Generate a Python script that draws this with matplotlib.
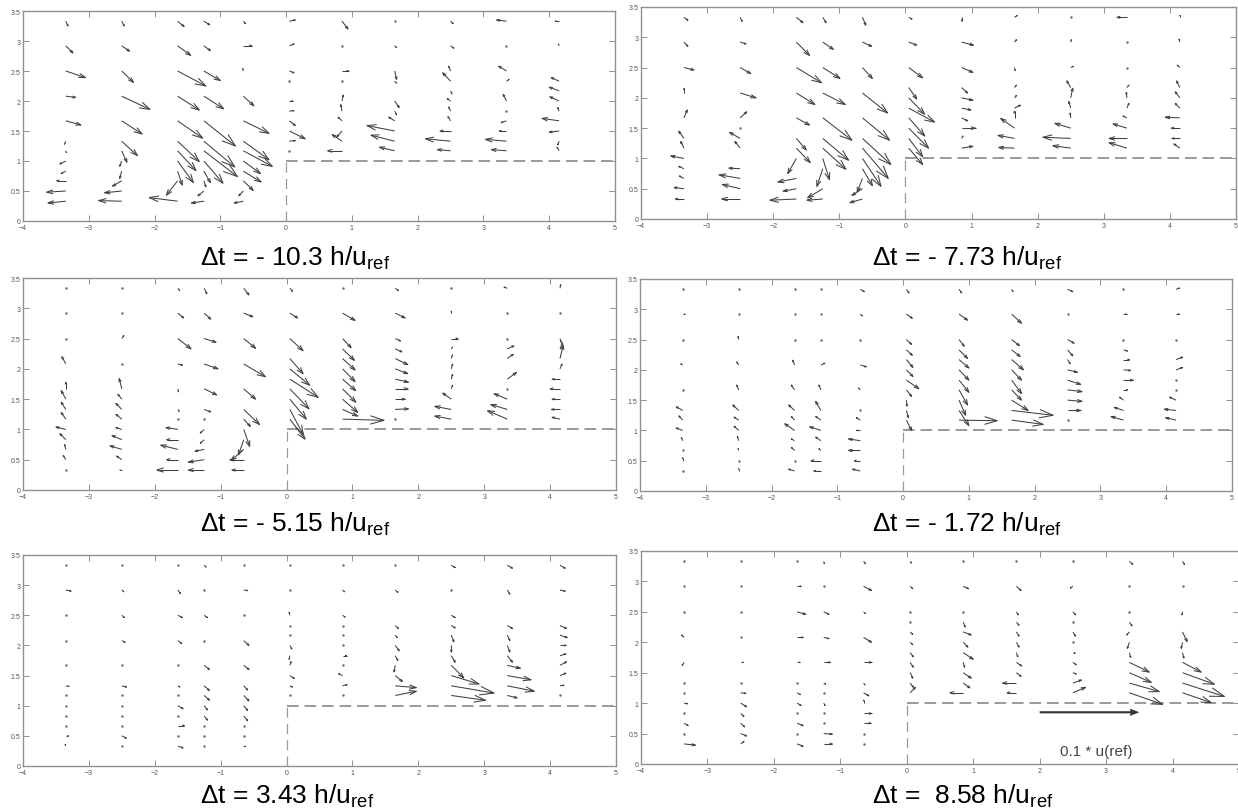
import numpy as np
import matplotlib
matplotlib.use('Agg')
import matplotlib.pyplot as plt
from matplotlib.collections import LineCollection

nan = np.nan

# measurement grid (tail positions)
x_left = [-3.35, -2.5, -1.65, -1.25, -0.65]
x_right = [0.05, 0.85, 1.65, 2.5, 3.35, 4.15]
y_left = [0.33, 0.5, 0.67, 0.83, 1.0, 1.17, 1.33, 1.5, 1.67, 2.08, 2.5, 2.92, 3.33]
y_right = [1.17, 1.33, 1.5, 1.67, 1.83, 2.0, 2.17, 2.33, 2.5, 2.92, 3.33]

captions = ['- 10.3', '- 7.73', '- 5.15', '- 1.72', '3.43', ' 8.58']

# vector components as drawn (plot units), one row per column of the grid
u_left_1 = [[-0.27, -0.29, -0.14, -0.07, -0.09, 0.01, -0.02, nan, 0.23, 0.15, 0.30, 0.11, 0.035],
            [-0.35, -0.26, -0.14, -0.03, -0.03, 0.08, 0.24, nan, 0.31, 0.43, 0.18, 0.12, 0.04],
            [-0.43, nan, -0.17, 0.07, 0.24, 0.28, 0.33, nan, 0.38, 0.33, 0.43, 0.2, 0.1],
            [-0.19, -0.09, 0.03, 0.1, 0.29, 0.51, 0.47, nan, 0.48, 0.3, 0.25, 0.1, 0.09],
            [-0.14, -0.07, 0.15, 0.27, 0.26, 0.44, 0.39, nan, 0.39, 0.16, -0.01, 0.13, 0.03]]
v_left_1 = [[-0.03, -0.02, 0.0, -0.04, -0.05, -0.03, -0.05, nan, -0.07, -0.02, -0.11, -0.12, -0.08],
            [0.01, -0.03, -0.09, -0.12, -0.09, -0.19, -0.24, nan, -0.22, -0.22, -0.19, -0.09, -0.08],
            [0.06, nan, -0.24, -0.23, -0.36, -0.33, -0.34, nan, -0.29, -0.23, -0.25, -0.16, -0.09],
            [-0.03, -0.08, -0.1, -0.19, -0.37, -0.43, -0.43, nan, -0.42, -0.21, -0.16, -0.08, -0.06],
            [-0.03, -0.08, -0.16, -0.18, -0.21, -0.26, -0.31, nan, -0.21, -0.16, 0.04, 0.0, -0.04]]
u_right_1 = [[0.0, 0.09, 0.24, 0.09, 0.07, 0.05, nan, 0.0, 0.07, 0.07, 0.09],
             [-0.22, -0.15, -0.08, -0.06, -0.02, 0.02, nan, 0.0, 0.1, 0.0, 0.09],
             [-0.23, -0.36, -0.42, -0.09, 0.03, 0.07, nan, 0.03, 0.03, 0.03, 0.0],
             [-0.2, -0.38, -0.16, -0.04, -0.03, -0.05, 0.02, -0.12, -0.03, 0.05, 0.04],
             [-0.23, -0.32, -0.11, -0.08, 0.0, -0.05, nan, 0.04, -0.12, 0.0, -0.15],
             [-0.03, -0.02, -0.15, -0.26, -0.02, -0.14, -0.15, -0.12, nan, -0.01, -0.06]]
v_right_1 = [[0.0, 0.01, -0.13, -0.08, 0.01, 0.0, nan, 0.0, -0.03, 0.03, 0.02],
             [0.0, 0.11, -0.1, 0.06, 0.11, 0.1, nan, 0.02, 0.0, 0.0, -0.13],
             [0.06, 0.1, 0.09, 0.06, -0.06, -0.11, nan, -0.03, -0.14, -0.03, 0.0],
             [0.02, 0.04, 0.0, 0.07, 0.07, 0.04, -0.05, 0.14, 0.08, -0.04, -0.04],
             [0.02, 0.03, 0.0, -0.03, 0.0, 0.11, nan, 0.03, 0.08, 0.0, 0.02],
             [0.06, -0.06, -0.02, 0.04, 0.06, 0.07, 0.06, 0.06, nan, 0.03, 0.0]]

u_left_2 = [[-0.13, -0.15, -0.07, -0.08, -0.2, -0.05, -0.08, nan, 0.05, 0.0, 0.15, 0.06, 0.06],
            [-0.28, -0.27, -0.32, -0.17, nan, -0.08, -0.16, 0.0, 0.1, 0.24, 0.16, 0.09, 0.03],
            [-0.4, -0.2, -0.28, nan, -0.13, 0.21, 0.15, nan, 0.2, 0.28, 0.38, 0.2, 0.1],
            [-0.24, -0.23, nan, -0.09, 0.1, 0.35, 0.39, nan, 0.44, 0.34, 0.26, 0.16, 0.05],
            [-0.19, -0.16, -0.08, 0.15, 0.28, 0.39, 0.43, nan, 0.41, 0.38, 0.15, 0.14, 0.05]]
v_left_2 = [[0.0, 0.02, 0.04, 0.04, 0.04, 0.11, 0.12, nan, 0.13, 0.08, -0.04, -0.07, -0.05],
            [0.0, 0.07, 0.06, 0.01, nan, 0.11, 0.1, 0.0, 0.1, -0.08, -0.1, -0.03, -0.07],
            [-0.02, -0.04, -0.06, nan, -0.25, -0.24, -0.19, nan, -0.12, -0.19, -0.25, -0.22, -0.09],
            [-0.02, -0.15, nan, -0.29, -0.35, -0.35, -0.36, nan, -0.37, -0.19, -0.18, -0.12, -0.09],
            [-0.06, -0.11, -0.22, -0.28, -0.46, -0.5, -0.43, nan, -0.37, -0.33, -0.18, -0.07, -0.13]]
u_right_2 = [[0.21, 0.21, 0.3, 0.24, 0.39, 0.24, 0.12, nan, 0.21, 0.12, 0.05],
             [0.17, 0.02, 0.21, 0.09, 0.14, 0.17, 0.09, nan, 0.17, 0.18, 0.0],
             [-0.24, -0.25, -0.21, 0.0, 0.09, 0.03, 0.03, nan, 0.01, 0.03, 0.04],
             [-0.27, -0.42, -0.24, -0.01, -0.03, 0.03, -0.06, nan, 0.04, 0.01, 0.02],
             [-0.27, -0.27, -0.21, -0.06, 0.03, -0.01, 0.03, nan, 0.01, 0.01, -0.15],
             [-0.09, -0.12, -0.13, -0.22, -0.07, -0.07, -0.05, nan, -0.04, -0.01, 0.0]]
v_right_2 = [[-0.27, -0.3, -0.33, -0.3, -0.23, -0.27, -0.19, nan, -0.17, -0.05, -0.03],
             [0.03, 0.04, 0.0, -0.05, -0.03, -0.04, -0.09, nan, -0.08, -0.05, -0.06],
             [0.01, 0.05, 0.16, 0.11, 0.05, 0.04, 0.04, nan, -0.05, 0.04, 0.03],
             [0.04, 0.02, 0.08, 0.08, 0.11, 0.16, 0.11, nan, 0.02, 0.04, 0.02],
             [0.09, 0.0, 0.07, 0.03, 0.08, 0.09, 0.04, nan, 0.0, -0.01, 0.0],
             [0.07, 0.0, 0.0, 0.01, 0.08, 0.1, 0.11, nan, 0.04, 0.05, 0.03]]

u_left_3 = [[0.0, -0.04, -0.02, -0.09, -0.15, -0.07, -0.07, -0.07, 0.0, -0.06, 0.0, 0.0, 0.0],
            [-0.03, -0.08, -0.18, -0.15, -0.09, -0.09, -0.09, -0.06, -0.04, 0.0, 0.03, 0.0, 0.0],
            [-0.32, -0.17, -0.26, -0.17, -0.18, 0.0, 0.02, nan, 0.01, 0.07, 0.2, 0.09, 0.03],
            [-0.24, -0.24, -0.14, -0.06, -0.06, 0.0, 0.1, nan, 0.19, 0.21, 0.18, 0.1, 0.04],
            [-0.18, -0.21, -0.19, -0.08, 0.09, 0.1, 0.24, nan, 0.18, 0.33, 0.18, 0.14, 0.08]]
v_left_3 = [[0.0, 0.07, 0.08, 0.1, 0.04, 0.11, 0.12, 0.14, 0.11, 0.12, 0.0, 0.0, 0.0],
            [0.0, 0.06, 0.06, 0.07, 0.03, 0.08, 0.1, 0.08, 0.17, 0.0, 0.05, 0.0, 0.0],
            [0.0, 0.0, 0.07, 0.0, 0.03, 0.0, -0.03, nan, -0.05, -0.02, -0.17, -0.08, -0.04],
            [0.0, -0.04, -0.03, -0.06, -0.06, 0.0, -0.04, nan, -0.1, -0.08, -0.06, -0.1, -0.09],
            [0.0, 0.0, -0.18, -0.25, -0.28, -0.12, -0.25, nan, -0.17, -0.21, -0.16, -0.06, -0.11]]
u_right_3 = [[0.23, 0.2, 0.25, 0.29, 0.43, 0.3, 0.2, nan, 0.2, 0.12, 0.04],
             [0.63, 0.23, 0.23, 0.2, 0.2, 0.19, 0.19, 0.18, 0.13, 0.19, 0.02],
             [0.0, 0.2, 0.15, 0.19, 0.2, 0.19, 0.19, 0.1, 0.08, 0.15, 0.05],
             [-0.25, -0.25, -0.13, 0.02, 0.02, 0.02, 0.02, 0.02, 0.1, 0.0, 0.02],
             [-0.3, -0.25, -0.2, 0.01, 0.14, nan, 0.09, 0.1, 0.0, 0.0, -0.05],
             [-0.12, -0.13, -0.12, -0.15, -0.12, 0.03, 0.05, 0.04, 0.02, 0.0, 0.01]]
v_right_3 = [[-0.33, -0.41, -0.33, -0.33, -0.3, -0.27, -0.25, nan, -0.2, -0.08, -0.05],
             [-0.02, -0.11, -0.22, -0.22, -0.19, -0.21, -0.19, -0.19, -0.15, -0.12, -0.02],
             [0.0, 0.01, 0.0, 0.0, -0.05, -0.08, -0.1, -0.05, -0.04, -0.08, -0.04],
             [0.05, 0.05, 0.1, 0.06, 0.08, 0.08, 0.06, 0.03, 0.0, 0.03, -0.02],
             [0.14, 0.08, 0.09, 0.02, 0.11, nan, 0.07, 0.05, 0.0, 0.0, 0.02],
             [0.03, 0.0, 0.0, 0.0, 0.0, 0.08, 0.22, 0.1, -0.06, 0.0, 0.06]]

u_left_4 = [[0.0, 0.0, 0.01, -0.02, -0.1, -0.06, -0.1, nan, 0.0, -0.03, 0.0, 0.03, 0.0],
            [0.0, 0.0, -0.01, -0.02, -0.07, -0.07, -0.09, nan, -0.03, -0.03, -0.01, 0.0, 0.0],
            [-0.09, 0.0, -0.05, -0.05, -0.15, -0.05, -0.09, nan, -0.05, -0.03, 0.0, 0.0, 0.0],
            [-0.11, -0.15, -0.03, -0.08, -0.17, -0.08, -0.08, nan, -0.03, 0.06, 0.0, 0.0, 0.0],
            [-0.12, -0.09, -0.18, -0.18, -0.06, -0.06, 0.0, nan, -0.03, 0.09, 0.0, 0.03, 0.06]]
v_left_4 = [[0.0, 0.05, 0.02, 0.05, 0.04, 0.07, 0.06, nan, 0.0, 0.02, 0.0, 0.0, 0.0],
            [0.04, 0.0, 0.03, 0.07, 0.07, 0.05, 0.09, nan, 0.08, 0.05, 0.05, 0.0, 0.0],
            [0.03, 0.0, 0.05, 0.03, 0.11, 0.06, 0.09, nan, 0.08, 0.08, 0.0, 0.0, 0.0],
            [0.0, 0.0, 0.03, 0.06, 0.06, 0.06, 0.15, nan, 0.08, 0.03, 0.0, 0.0, 0.0],
            [0.03, 0.0, 0.0, 0.03, 0.0, 0.04, 0.0, nan, 0.03, -0.03, 0.0, -0.03, -0.04]]
u_right_4 = [[0.08, 0.03, 0.01, 0.08, 0.19, 0.1, 0.1, 0.09, 0.08, 0.09, 0.04],
             [0.58, 0.15, 0.1, 0.13, 0.15, 0.15, 0.15, 0.13, 0.08, 0.13, 0.04],
             [0.48, 0.63, 0.25, 0.15, 0.15, 0.15, 0.18, 0.13, 0.12, 0.15, 0.02],
             [0.0, 0.2, 0.22, 0.22, 0.2, 0.15, 0.04, 0.08, 0.1, 0.02, 0.08],
             [-0.19, -0.14, -0.06, 0.06, 0.15, 0.11, 0.09, 0.06, 0.0, 0.05, 0.0],
             [-0.16, -0.18, -0.1, 0.0, 0.0, 0.1, 0.1, nan, 0.0, 0.05, 0.05]]
v_right_4 = [[-0.17, -0.12, -0.1, -0.11, -0.14, -0.11, -0.13, -0.09, -0.08, -0.07, -0.06],
             [-0.01, -0.25, -0.25, -0.25, -0.2, -0.17, -0.14, -0.14, -0.11, -0.1, -0.06],
             [-0.07, -0.08, -0.17, -0.17, -0.22, -0.17, -0.17, -0.11, -0.1, -0.15, -0.04],
             [0.0, 0.0, -0.02, -0.03, -0.07, -0.04, -0.07, -0.1, -0.06, -0.02, -0.04],
             [0.06, 0.05, 0.05, 0.0, 0.0, -0.01, 0.0, -0.02, 0.0, 0.0, 0.0],
             [0.04, 0.02, 0.05, 0.0, 0.0, 0.04, 0.04, nan, 0.0, 0.0, 0.02]]

u_left_5 = [[-0.01, 0.04, 0.02, 0.0, 0.02, 0.02, 0.05, nan, 0.0, 0.0, 0.0, 0.08, 0.0],
            [0.0, 0.07, 0.0, 0.0, 0.0, 0.02, 0.07, nan, 0.0, 0.05, 0.04, 0.03, 0.0],
            [0.08, 0.0, 0.1, 0.0, 0.08, 0.0, 0.03, nan, 0.0, 0.06, 0.07, 0.04, 0.0],
            [0.0, 0.0, 0.0, 0.05, 0.05, 0.08, 0.08, nan, 0.08, 0.0, 0.05, 0.02, 0.03],
            [0.03, 0.0, 0.01, 0.06, 0.06, 0.08, 0.06, nan, 0.08, 0.08, 0.0, 0.06, 0.0]]
v_left_5 = [[0.03, 0.0, 0.02, 0.0, -0.02, 0.0, -0.01, nan, 0.01, 0.0, 0.0, -0.02, 0.0],
            [0.0, -0.04, 0.0, 0.0, 0.0, 0.0, -0.02, nan, 0.0, -0.03, -0.04, -0.03, 0.0],
            [-0.03, 0.0, 0.0, 0.0, -0.05, 0.0, -0.02, nan, 0.0, -0.05, -0.04, -0.06, 0.0],
            [0.0, 0.0, 0.0, -0.07, -0.07, -0.08, -0.08, nan, -0.07, 0.0, -0.04, 0.0, -0.03],
            [-0.01, 0.0, -0.02, -0.08, -0.08, -0.09, -0.07, nan, -0.07, -0.08, 0.0, -0.01, 0.0]]
u_right_5 = [[0.0, 0.04, 0.07, 0.02, -0.01, 0.03, 0.0, 0.0, -0.01, 0.0, 0.0],
             [0.0, 0.07, -0.06, 0.02, 0.06, 0.0, 0.0, 0.0, 0.04, 0.03, 0.0],
             [0.32, 0.32, 0.11, -0.02, 0.04, 0.06, 0.03, 0.05, nan, 0.04, 0.0],
             [0.52, 0.65, 0.42, 0.19, 0.06, 0.0, 0.04, 0.06, 0.06, 0.02, 0.06],
             [0.15, 0.41, 0.36, 0.2, 0.08, 0.04, 0.04, 0.08, nan, 0.04, 0.08],
             [0.0, 0.06, 0.09, 0.1, 0.09, 0.09, 0.11, 0.1, nan, 0.08, 0.08]]
v_right_5 = [[0.0, -0.02, -0.05, 0.06, -0.06, -0.06, 0.0, 0.0, 0.05, 0.0, 0.0],
             [0.0, 0.02, 0.03, -0.01, 0.0, 0.0, 0.0, 0.0, -0.03, -0.03, 0.0],
             [0.07, -0.03, -0.1, -0.11, -0.08, -0.09, -0.04, -0.05, nan, -0.04, 0.0],
             [-0.08, -0.12, -0.14, -0.21, -0.11, -0.11, -0.11, -0.04, -0.04, 0.0, -0.04],
             [-0.04, -0.09, -0.07, -0.05, -0.11, -0.11, -0.09, -0.05, nan, -0.07, -0.05],
             [0.0, 0.01, 0.04, 0.06, 0.03, 0.0, -0.04, -0.05, nan, -0.02, -0.05]]

u_left_6 = [[0.17, 0.0, 0.06, 0.0, 0.05, 0.0, 0.0, nan, -0.03, -0.04, 0.0, 0.0, 0.0],
            [0.05, 0.09, 0.06, 0.05, 0.09, 0.08, 0.0, nan, 0.04, 0.0, 0.0, 0.0, 0.0],
            [0.09, 0.0, 0.09, 0.0, 0.06, 0.05, 0.0, nan, 0.04, 0.09, 0.13, 0.06, 0.0],
            [0.13, 0.13, 0.0, 0.02, 0.02, 0.0, 0.03, nan, 0.1, 0.08, 0.08, 0.0, 0.01],
            [0.0, 0.0, 0.11, 0.12, 0.0, 0.08, 0.02, nan, 0.12, 0.12, 0.03, 0.12, 0.03]]
v_left_6 = [[-0.02, 0.0, -0.04, 0.0, -0.01, 0.0, 0.0, nan, -0.05, 0.04, 0.0, 0.0, 0.0],
            [0.04, -0.04, -0.06, -0.05, -0.06, -0.01, 0.0, nan, 0.0, 0.0, 0.0, 0.0, 0.0],
            [-0.04, 0.0, -0.04, 0.0, -0.04, -0.03, 0.0, nan, 0.0, 0.0, -0.04, 0.0, 0.0],
            [0.0, -0.01, 0.0, -0.02, -0.04, 0.0, -0.02, nan, 0.0, -0.02, -0.04, 0.0, -0.04],
            [0.0, 0.0, 0.0, 0.0, 0.05, -0.05, -0.03, nan, 0.0, -0.08, -0.03, -0.07, -0.04]]
u_right_6 = [[0.08, 0.05, 0.04, 0.05, 0.05, 0.04, 0.04, 0.0, 0.0, 0.04, 0.02],
             [-0.2, 0.1, 0.12, 0.02, 0.15, 0.07, 0.12, 0.03, 0.0, 0.08, 0.0],
             [-0.14, -0.21, 0.07, 0.08, 0.02, 0.04, 0.04, 0.04, 0.03, 0.07, 0.0],
             [0.19, 0.13, 0.05, 0.05, 0.03, 0.02, 0.04, 0.0, 0.04, -0.04, 0.0],
             [0.5, 0.45, 0.33, 0.3, 0.02, -0.03, -0.04, 0.04, 0.0, 0.0, 0.05],
             [0.43, 0.63, 0.48, 0.28, 0.02, -0.02, 0.07, nan, -0.01, 0.0, 0.03]]
v_right_6 = [[0.09, -0.07, -0.09, -0.08, -0.07, -0.04, -0.04, 0.0, 0.0, -0.04, -0.03],
             [0.0, -0.08, -0.09, -0.08, -0.11, -0.08, -0.05, -0.08, 0.0, -0.04, 0.0],
             [0.0, 0.0, -0.06, -0.06, -0.07, -0.08, -0.07, -0.05, -0.05, -0.07, 0.0],
             [0.09, 0.05, -0.02, -0.04, 0.0, 0.0, -0.07, 0.0, -0.05, -0.03, 0.0],
             [-0.19, -0.14, -0.16, -0.16, -0.08, -0.1, -0.05, -0.06, 0.0, 0.0, -0.05],
             [-0.16, -0.22, -0.19, -0.16, -0.09, -0.1, -0.16, nan, -0.05, 0.0, -0.05]]

# reference vector (0.1 * u_ref) in panel 6
ref_x, ref_y, ref_len = 2.0, 0.85, 1.5

plt.rcParams['font.family'] = ['Liberation Sans', 'DejaVu Sans']
plt.rcParams['mathtext.fontset'] = 'custom'
plt.rcParams['mathtext.rm'] = 'Liberation Sans'

W, H = 1238, 812
fig = plt.figure(figsize=(W / 100, H / 100), dpi=100)

# axes boxes in pixels: left, top, right, bottom
boxes = [(23, 12, 615, 222), (641, 8, 1236, 220),
         (23, 279, 616, 491), (640, 280, 1232, 492),
         (23, 556, 616, 767), (641, 552, 1239, 765)]
# caption left edge / baseline in pixels
cap_pos = [(200, 265), (872, 265), (200, 532), (872, 532), (200, 804), (872, 804)]

panels = [(u_left_1, v_left_1, u_right_1, v_right_1),
          (u_left_2, v_left_2, u_right_2, v_right_2),
          (u_left_3, v_left_3, u_right_3, v_right_3),
          (u_left_4, v_left_4, u_right_4, v_right_4),
          (u_left_5, v_left_5, u_right_5, v_right_5),
          (u_left_6, v_left_6, u_right_6, v_right_6)]

frame_col = '#909090'
arrow_col = '#404040'


def arrows(ax, xs, ys, U, V):
    segs = []
    dots = []
    a, b = 0.33, 0.33  # matlab quiver head proportions
    for i, x0 in enumerate(xs):
        for j, y0 in enumerate(ys):
            u, v = U[i][j], V[i][j]
            if np.isnan(u):
                continue
            if np.hypot(u, v) < 0.03:
                dots.append((x0, y0))
                continue
            tx, ty = x0 + u, y0 + v
            segs.append([(x0, y0), (tx, ty)])
            segs.append([(tx - a * (u + b * v), ty - a * (v - b * u)), (tx, ty),
                         (tx - a * (u - b * v), ty - a * (v + b * u))])
    ax.add_collection(LineCollection(segs, colors=arrow_col, linewidths=0.75))
    if dots:
        d = np.array(dots)
        ax.plot(d[:, 0], d[:, 1], '.', color='#707070', ms=1.6)


for k, (box, (uL, vL, uR, vR)) in enumerate(zip(boxes, panels)):
    l, t, r, b = box
    ax = fig.add_axes([l / W, 1 - b / H, (r - l) / W, (b - t) / H])
    ax.set_xlim(-4, 5)
    ax.set_ylim(0, 3.5)
    ax.set_xticks(range(-4, 6))
    ax.set_yticks(np.arange(0, 3.51, 0.5))
    ax.set_yticklabels(['0', '0.5', '1', '1.5', '2', '2.5', '3', '3.5'])
    ax.tick_params(direction='in', length=4, width=0.7, colors=frame_col,
                   labelsize=5, labelcolor='#555555', top=True, right=True, pad=2)
    for s in ax.spines.values():
        s.set_color(frame_col)
        s.set_linewidth(1.0)

    # step outline
    ax.plot([0, 0], [0, 1], color='#9a9a9a', lw=0.9, dashes=(8, 5))
    ax.plot([0, 5], [1, 1], color='#9a9a9a', lw=1.4, dashes=(6, 3))

    arrows(ax, x_left, y_left, uL, vL)
    arrows(ax, x_right, y_right, uR, vR)

    if k == 5:
        ax.quiver([ref_x], [ref_y], [ref_len], [0], angles='xy', scale_units='xy', scale=1,
                  color='#333333', width=0.0035, headwidth=3.5, headlength=4.5, headaxislength=4.2)
        ax.text(2.85, 0.22, '0.1 * u(ref)', ha='center', va='center', fontsize=11,
                color='#444444', family=['Liberation Sans Narrow', 'Liberation Sans', 'DejaVu Sans'])

    cx, cy = cap_pos[k]
    fig.text(cx / W, 1 - cy / H, r'$\Delta$t = ' + captions[k] + r' h/u$_{\mathrm{ref}}$',
             ha='left', va='baseline', fontsize=19)

fig.savefig('out.png', dpi=100)
